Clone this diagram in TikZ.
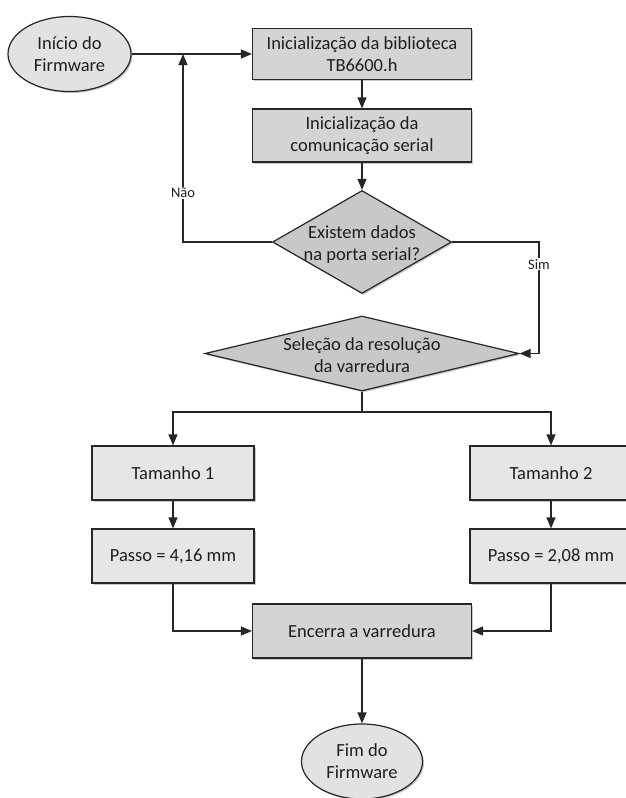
\documentclass[tikz,border=0pt]{standalone}
\usepackage{fontspec}
\setmainfont{Carlito}
\usetikzlibrary{shapes.geometric,arrows.meta,shadows}

\definecolor{fillDark}{HTML}{D4D4D4}
\definecolor{fillLight}{HTML}{E6E6E6}
\definecolor{fillDecision}{HTML}{C8C8C8}
\definecolor{fillTerm}{HTML}{E2E2E2}
\definecolor{inkText}{HTML}{1E1E1E}

\begin{document}
\begin{tikzpicture}[
  x=1pt, y=-1pt,
  shade/.style={drop shadow={shadow xshift=1.5pt, shadow yshift=-1.5pt, opacity=0.22, fill=black}},
  base/.style={draw=black!85, line width=1.2pt, text=inkText,
    font=\fontsize{18.5}{22}\selectfont, align=center, inner sep=0pt, shade},
  darkbox/.style={base, rectangle, fill=fillDark, minimum width=219pt, minimum height=52pt},
  lightbox/.style={base, rectangle, fill=fillLight, minimum width=162pt, minimum height=54pt},
  decision/.style={base, diamond, fill=fillDecision},
  terminal/.style={base, ellipse, fill=fillTerm, minimum width=123pt, minimum height=75pt},
  dtext/.style={text=inkText, font=\fontsize{18.5}{22}\selectfont, align=center},
  arr/.style={draw=black!85, line width=1.2pt, -{Triangle[length=11pt,width=9pt]}},
  line/.style={draw=black!85, line width=1.2pt},
  lbl/.style={fill=white, inner sep=1pt, text=inkText, font=\fontsize{14.5}{17}\selectfont}
]
\useasboundingbox (0,0) rectangle (626,798);

% Start / end terminals
\node[terminal] (start) at (69.5,54) {Início do\\Firmware};
\node[terminal, minimum width=121pt] (fim) at (362,761.5) {Fim do\\Firmware};

% Initialisation steps
\node[darkbox, minimum height=51pt] (init1) at (362,54) {Inicialização da biblioteca\\TB6600.h};
\node[darkbox, minimum height=53pt] (init2) at (362,135.5) {Inicialização da\\comunicação serial};

% Decisions
\node[decision, minimum width=179pt, minimum height=103pt] (dec1) at (362,242)
  {\phantom{x}};
\node[dtext] at (362,245) {Existem dados\\na porta serial?};
\node[decision, minimum width=314pt, minimum height=75pt] (dec2) at (362,353.5)
  {\phantom{x}};
\node[dtext] at (362,355) {Seleção da resolução\\da varredura};

% Branches
\node[lightbox] (t1) at (173,473) {Tamanho 1};
\node[lightbox] (t2) at (551,473) {Tamanho 2};
\node[lightbox] (p1) at (173,556) {Passo = 4,16 mm};
\node[lightbox] (p2) at (551,556) {Passo = 2,08 mm};

% Finish
\node[darkbox, minimum height=54pt] (stop) at (362,631) {Encerra a varredura};

% Helper points
\coordinate (loop) at (183,54);
\coordinate (simx) at (539,0);
\coordinate (split) at (362,412);

% Connectors
\draw[arr] (start) -- (init1);
\draw[arr] (init1) -- (init2);
\draw[arr] (init2) -- (dec1);
\draw[arr] (dec1.west) -| (loop) node[lbl, pos=0.63] {Não};
\draw[arr] (dec1.east) -| (dec2.east -| simx) node[lbl, pos=0.6] {Sim} -- (dec2.east);
\draw[line] (dec2.south) -- (split);
\draw[arr] (split) -| (t1.north);
\draw[arr] (split) -| (t2.north);
\draw[arr] (t1) -- (p1);
\draw[arr] (t2) -- (p2);
\draw[arr] (p1.south) |- (stop.west);
\draw[arr] (p2.south) |- (stop.east);
\draw[arr] (stop) -- (fim);
\end{tikzpicture}
\end{document}
